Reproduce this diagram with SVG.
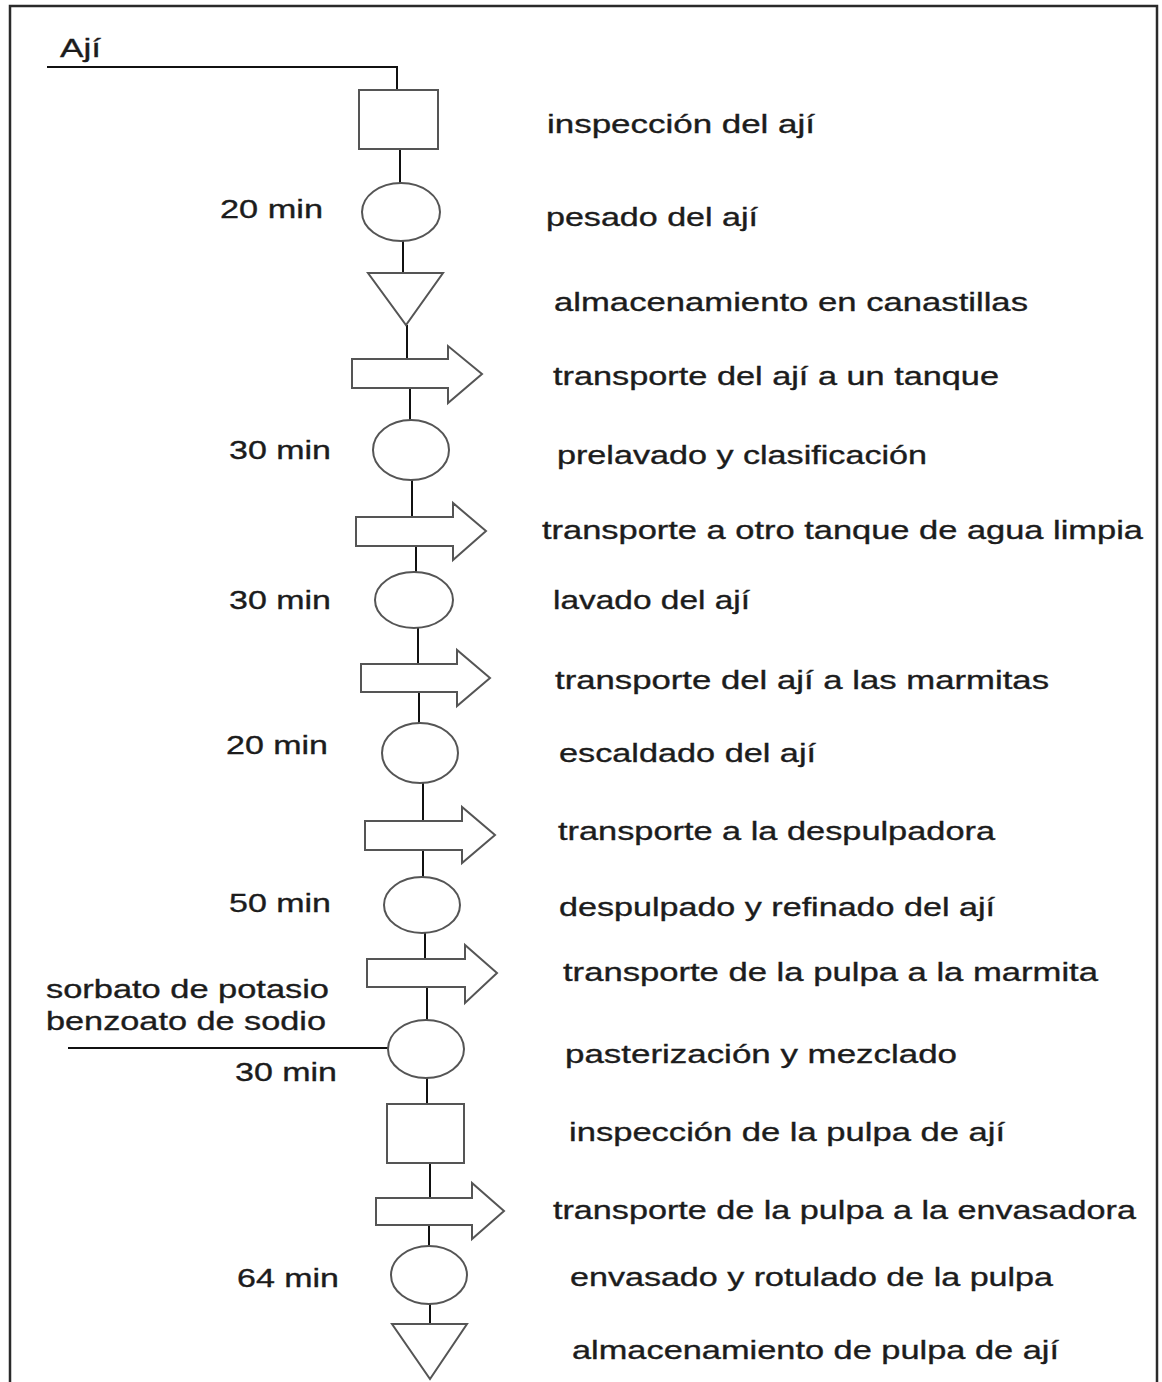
<svg xmlns="http://www.w3.org/2000/svg" width="1162" height="1382" viewBox="0 0 1162 1382">
<style>
.t{font-family:"Liberation Sans",Arial,sans-serif;font-size:26px;fill:#1c1c1c;stroke:#1c1c1c;stroke-width:0.35}
.sh{fill:#fff;stroke:#555;stroke-width:2}
.ln{fill:none;stroke:#111;stroke-width:2}
.fr{fill:none;stroke:#2a2a2a;stroke-width:2.5}
</style>
<rect width="1162" height="1382" fill="#fff"/>
<rect class="fr" x="10" y="6" width="1147" height="1400"/>
<g id="connectors">
<path class="ln" d="M47 67 H397 V90"/>
<path class="ln" d="M400 149 V183"/>
<path class="ln" d="M403 241 V273"/>
<path class="ln" d="M407 325 V359"/>
<path class="ln" d="M410 388 V420"/>
<path class="ln" d="M412 480 V517"/>
<path class="ln" d="M416 546 V572"/>
<path class="ln" d="M418 628 V664"/>
<path class="ln" d="M419 692 V723"/>
<path class="ln" d="M423 783 V821"/>
<path class="ln" d="M423 850 V877"/>
<path class="ln" d="M425 933 V959"/>
<path class="ln" d="M427 987 V1020"/>
<path class="ln" d="M427 1078 V1104"/>
<path class="ln" d="M430 1163 V1198"/>
<path class="ln" d="M429 1225 V1246"/>
<path class="ln" d="M430 1304 V1324"/>
<path class="ln" d="M68 1048 H388"/>
</g>
<g id="n1"><rect class="sh" x="359" y="90" width="79" height="59"/><text class="t" x="547" y="133" textLength="268" lengthAdjust="spacingAndGlyphs">inspección del ají</text></g>
<g id="n2"><ellipse class="sh" cx="401" cy="212" rx="39" ry="29"/><text class="t" x="546" y="226" textLength="212" lengthAdjust="spacingAndGlyphs">pesado del ají</text><text class="t" x="220" y="218" textLength="103" lengthAdjust="spacingAndGlyphs">20 min</text></g>
<g id="n3"><polygon class="sh" points="368,273 443,273 406,325"/><text class="t" x="554" y="311" textLength="474" lengthAdjust="spacingAndGlyphs">almacenamiento en canastillas</text></g>
<g id="n4"><polygon class="sh" points="352,359 448,359 448,346 482,374 448,403 448,388 352,388"/><text class="t" x="553" y="385" textLength="446" lengthAdjust="spacingAndGlyphs">transporte del ají a un tanque</text></g>
<g id="n5"><ellipse class="sh" cx="411" cy="450" rx="38" ry="30"/><text class="t" x="557" y="464" textLength="370" lengthAdjust="spacingAndGlyphs">prelavado y clasificación</text><text class="t" x="229" y="459" textLength="102" lengthAdjust="spacingAndGlyphs">30 min</text></g>
<g id="n6"><polygon class="sh" points="356,517 453,517 453,503 486,531 453,560 453,546 356,546"/><text class="t" x="542" y="539" textLength="601" lengthAdjust="spacingAndGlyphs">transporte a otro tanque de agua limpia</text></g>
<g id="n7"><ellipse class="sh" cx="414" cy="600" rx="39" ry="28"/><text class="t" x="553" y="609" textLength="197" lengthAdjust="spacingAndGlyphs">lavado del ají</text><text class="t" x="229" y="609" textLength="102" lengthAdjust="spacingAndGlyphs">30 min</text></g>
<g id="n8"><polygon class="sh" points="361,664 457,664 457,650 490,678 457,706 457,692 361,692"/><text class="t" x="555" y="689" textLength="494" lengthAdjust="spacingAndGlyphs">transporte del ají a las marmitas</text></g>
<g id="n9"><ellipse class="sh" cx="420" cy="753" rx="38" ry="30"/><text class="t" x="559" y="762" textLength="257" lengthAdjust="spacingAndGlyphs">escaldado del ají</text><text class="t" x="226" y="754" textLength="102" lengthAdjust="spacingAndGlyphs">20 min</text></g>
<g id="n10"><polygon class="sh" points="365,821 462,821 462,807 495,835 462,863 462,850 365,850"/><text class="t" x="558" y="840" textLength="437" lengthAdjust="spacingAndGlyphs">transporte a la despulpadora</text></g>
<g id="n11"><ellipse class="sh" cx="422" cy="905" rx="38" ry="28"/><text class="t" x="559" y="916" textLength="436" lengthAdjust="spacingAndGlyphs">despulpado y refinado del ají</text><text class="t" x="229" y="912" textLength="102" lengthAdjust="spacingAndGlyphs">50 min</text></g>
<g id="n12"><polygon class="sh" points="367,959 465,959 465,945 497,973 465,1003 465,987 367,987"/><text class="t" x="563" y="981" textLength="535" lengthAdjust="spacingAndGlyphs">transporte de la pulpa a la marmita</text></g>
<g id="n13"><ellipse class="sh" cx="426" cy="1049" rx="38" ry="29"/><text class="t" x="565" y="1063" textLength="392" lengthAdjust="spacingAndGlyphs">pasterización y mezclado</text><text class="t" x="235" y="1081" textLength="102" lengthAdjust="spacingAndGlyphs">30 min</text><text class="t" x="46" y="998" textLength="283" lengthAdjust="spacingAndGlyphs">sorbato de potasio</text><text class="t" x="46" y="1030" textLength="280" lengthAdjust="spacingAndGlyphs">benzoato de sodio</text></g>
<g id="n14"><rect class="sh" x="387" y="1104" width="77" height="59"/><text class="t" x="569" y="1141" textLength="436" lengthAdjust="spacingAndGlyphs">inspección de la pulpa de ají</text></g>
<g id="n15"><polygon class="sh" points="376,1198 472,1198 472,1183 504,1211 472,1239 472,1225 376,1225"/><text class="t" x="553" y="1219" textLength="583" lengthAdjust="spacingAndGlyphs">transporte de la pulpa a la envasadora</text></g>
<g id="n16"><ellipse class="sh" cx="429" cy="1275" rx="38" ry="29"/><text class="t" x="570" y="1286" textLength="483" lengthAdjust="spacingAndGlyphs">envasado y rotulado de la pulpa</text><text class="t" x="237" y="1287" textLength="102" lengthAdjust="spacingAndGlyphs">64 min</text></g>
<g id="n17"><polygon class="sh" points="392,1324 467,1324 430,1379"/><text class="t" x="572" y="1359" textLength="487" lengthAdjust="spacingAndGlyphs">almacenamiento de pulpa de ají</text></g>
<g id="src"><text class="t" x="60" y="57" textLength="41" lengthAdjust="spacingAndGlyphs">Ají</text></g>
</svg>
